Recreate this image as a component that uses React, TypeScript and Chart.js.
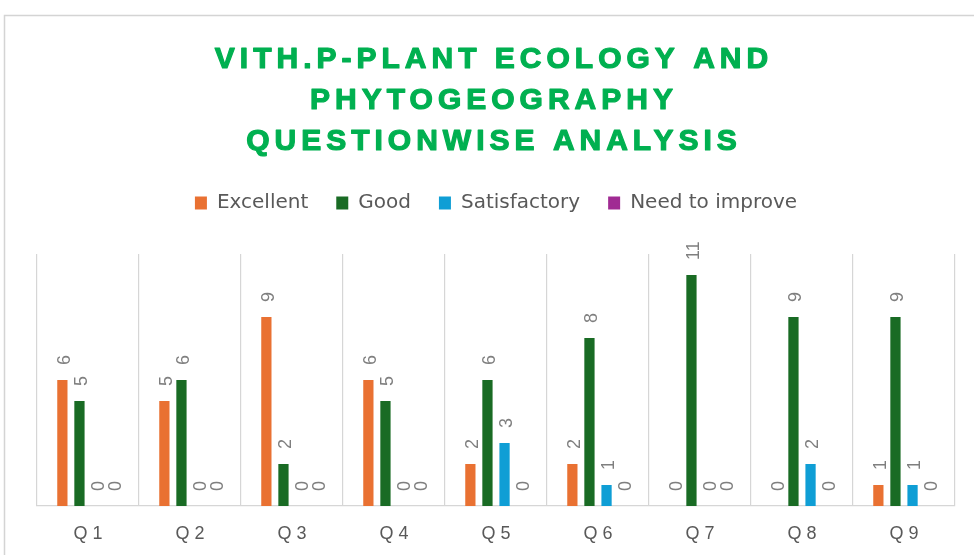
import { useEffect, useRef } from 'react';
import { Chart, registerables } from 'chart.js';

Chart.register(...registerables);

const categories = ['Q 1', 'Q 2', 'Q 3', 'Q 4', 'Q 5', 'Q 6', 'Q 7', 'Q 8', 'Q 9'];
const excellent = [6, 5, 9, 6, 2, 2, 0, 0, 1];
const good = [5, 6, 2, 5, 6, 8, 11, 9, 9];
const satisfactory = [0, 0, 0, 0, 3, 1, 0, 2, 1];
const needToImprove = [0, 0, 0, 0, 0, 0, 0, 0, 0];
const seriesNames = ['Excellent', 'Good', 'Satisfactory', 'Need to improve'];
const seriesColors = ['#E97132', '#196B24', '#0F9ED5', '#A02B93'];
const titleLines = ['VITH.P-PLANT ECOLOGY AND', 'PHYTOGEOGRAPHY', 'QUESTIONWISE ANALYSIS'];
const yMax = 12;

const framePlugin = {
  id: 'frame',
  beforeDraw(chart: any) {
    const ctx = chart.ctx;
    ctx.save();
    ctx.fillStyle = '#ffffff';
    ctx.fillRect(0, 0, chart.width, chart.height);
    ctx.strokeStyle = '#d4d4d4';
    ctx.lineWidth = 1.5;
    ctx.strokeRect(4.5, 15.5, chart.width + 20, chart.height + 20);
    ctx.restore();
  },
};

const titlePlugin = {
  id: 'customTitle',
  afterDraw(chart: any) {
    const ctx = chart.ctx;
    ctx.save();
    ctx.font = 'bold 30px "Liberation Sans", Arial, sans-serif';
    ctx.fillStyle = '#00B050';
    ctx.strokeStyle = '#00B050';
    ctx.lineWidth = 1.2;
    ctx.lineJoin = 'round';
    ctx.textAlign = 'center';
    ctx.textBaseline = 'alphabetic';
    const ls = 5;
    (ctx as any).letterSpacing = ls + 'px';
    titleLines.forEach((line, i) => {
      const x = 491.5 + ls / 2;
      const y = 68 + i * 41;
      ctx.fillText(line, x, y);
      ctx.strokeText(line, x, y);
    });
    ctx.restore();
  },
};

const legendSpacer = {
  id: 'legendSpacer',
  beforeLayout(chart: any) {
    const legend = chart.legend;
    if (legend && !legend._spacerPatched) {
      const orig = legend.fit;
      legend.fit = function () {
        orig.call(this);
        this.height += 31;
      };
      legend._spacerPatched = true;
    }
  },
};

const valueLabels = {
  id: 'valueLabels',
  afterDatasetsDraw(chart: any) {
    const ctx = chart.ctx;
    ctx.save();
    ctx.font = '18px "Liberation Sans", Arial, sans-serif';
    ctx.fillStyle = '#7F7F7F';
    ctx.textAlign = 'left';
    ctx.textBaseline = 'alphabetic';
    chart.data.datasets.forEach((ds: any, di: number) => {
      const meta = chart.getDatasetMeta(di);
      if (meta.hidden) return;
      meta.data.forEach((bar: any, i: number) => {
        const v = ds.data[i];
        ctx.save();
        ctx.translate(bar.x + 7.5, bar.y - 15);
        ctx.rotate(-Math.PI / 2);
        ctx.fillText(String(v), 0, 0);
        ctx.restore();
      });
    });
    ctx.restore();
  },
};

export default function App() {
  const canvasRef = useRef<HTMLCanvasElement | null>(null);

  useEffect(() => {
    document.body.style.margin = '0';
    const canvas = canvasRef.current;
    if (!canvas) return;
    const data = [excellent, good, satisfactory, needToImprove];
    const chart = new Chart(canvas, {
      type: 'bar',
      data: {
        labels: categories,
        datasets: seriesNames.map((name, i) => ({
          label: name,
          data: data[i],
          backgroundColor: seriesColors[i],
          borderWidth: 0,
          categoryPercentage: 0.67,
          barPercentage: 0.6,
        })),
      },
      options: {
        responsive: false,
        animation: false,
        devicePixelRatio: 1,
        layout: { padding: { top: 165, left: 37, right: 19, bottom: 10 } },
        plugins: {
          title: { display: false },
          tooltip: { enabled: false },
          legend: {
            display: true,
            position: 'top',
            labels: {
              boxWidth: 12,
              boxHeight: 13,
              padding: 28,
              color: '#595959',
              font: { size: 20, family: '"DejaVu Sans", sans-serif' },
            },
          },
        },
        scales: {
          x: {
            afterFit(scale: any) {
              scale.height = 39;
            },
            grid: {
              display: true,
              offset: true,
              color: '#D6D6D6',
              lineWidth: 1.2,
              drawTicks: false,
            },
            border: { display: true, color: '#D6D6D6', width: 1.2 },
            ticks: {
              color: '#595959',
              padding: 17,
              font: { size: 18, family: '"Liberation Sans", Arial, sans-serif' },
            },
          },
          y: {
            display: false,
            min: 0,
            max: yMax,
          },
        },
      },
      plugins: [framePlugin, titlePlugin, legendSpacer, valueLabels],
    });
    return () => chart.destroy();
  }, []);

  return (
    <div style={{ width: 974, height: 555, overflow: 'hidden' }}>
      <canvas ref={canvasRef} width={974} height={555} style={{ display: 'block', width: 974, height: 555 }} />
    </div>
  );
}
